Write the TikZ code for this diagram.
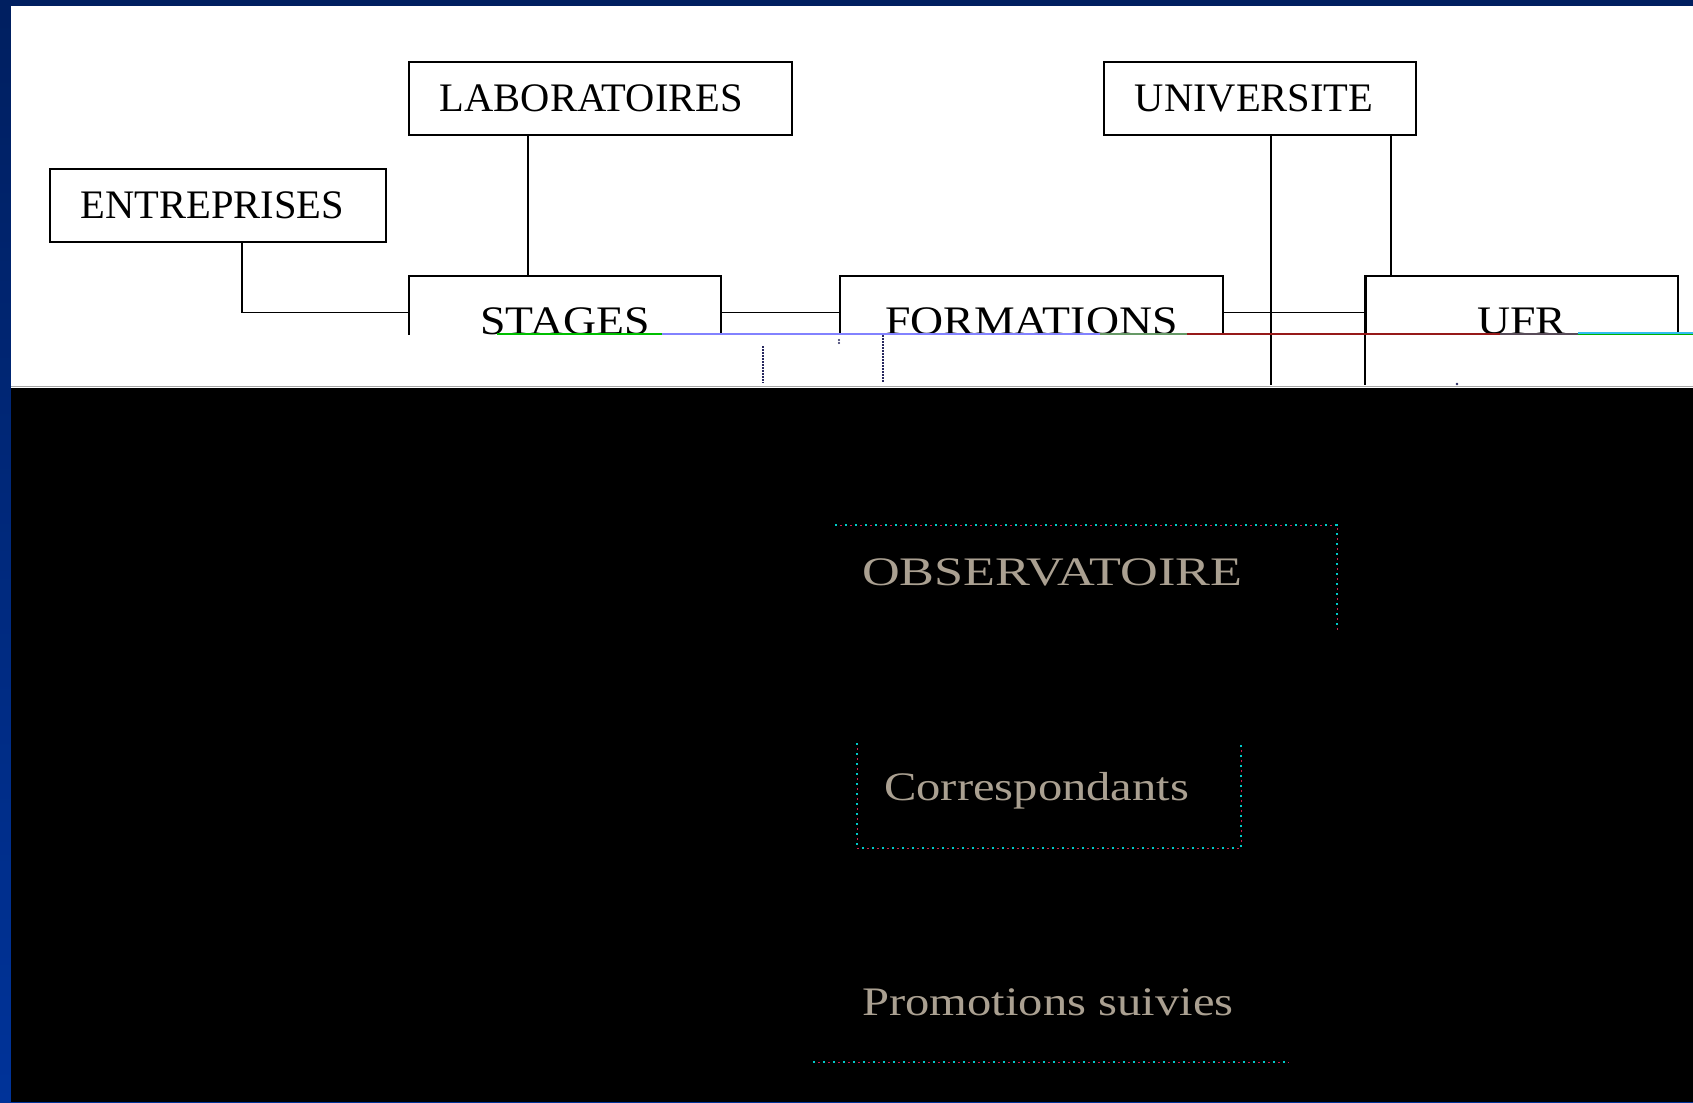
\documentclass[tikz,border=0pt]{standalone}
\usepackage{fontspec}
\setmainfont{Liberation Serif}
\newfontfamily\widefont[FakeStretch=1.2]{Liberation Serif}
\newfontfamily\widerfont[FakeStretch=1.29]{Liberation Serif}
\newfontfamily\lowfont[FakeStretch=1.13]{Liberation Serif}
\definecolor{navy}{RGB}{0,31,96}
\definecolor{slideblue}{RGB}{0,51,153}
\definecolor{ghost}{RGB}{170,160,145}
\definecolor{dotcyan}{RGB}{0,200,200}
\definecolor{dotred}{RGB}{205,30,75}
\definecolor{dotnavy}{RGB}{40,40,95}
\definecolor{lav}{RGB}{130,130,255}
\definecolor{rust}{RGB}{150,25,25}
\tikzset{
  topbox/.style={draw, line width=1.8pt, anchor=north west, inner xsep=31pt, inner ysep=0pt,
    text width=#1, align=left, minimum height=73pt, text height=27pt, text depth=0pt},
  lowbox/.style={draw, line width=1.8pt, anchor=north west, inner sep=0pt,
    minimum width=#1, minimum height=73pt, text height=45pt, text depth=0pt,
    font=\lowfont\fontsize{40.5}{48}\selectfont},
  link/.style={line width=1.4pt},
  dotpair/.style={line width=2.4pt, dotcyan, dash pattern=on 2.2pt off 7.8pt,
    preaction={draw, dotred, dash pattern=on 2.2pt off 7.8pt, dash phase=5pt}},
  ghosttext/.style={anchor=base west, inner sep=0pt, text=ghost,
    font=\widefont\fontsize{40.5}{48}\selectfont}
}
\begin{document}
\begin{tikzpicture}[x=1pt, y=-1pt, line cap=butt, font=\fontsize{40.5}{48}\selectfont]
  \useasboundingbox (0,0) rectangle (1693,1102);
  % frame and the two halves of the slide
  \shade[top color=navy, bottom color=slideblue] (0,0) rectangle (1693,1102);
  \fill[navy] (0,0) rectangle (1693,6);
  \fill[white] (11,6) rectangle (1693,388);
  \fill[black] (11,388) rectangle (1693,1102);
  \draw[black!35, line width=1.2pt] (11,386.6) -- (1693,386.6);
  \coordinate (edge) at (0,385);
  % boxes
  \node[topbox=274pt] (ent) at (49,168) {ENTREPRISES};
  \node[topbox=321pt] (lab) at (408,61) {LABORATOIRES};
  \node[topbox=250pt] (uni) at (1103,61) {UNIVERSITE};
  \begin{scope}
    \clip (0,0) rectangle (1693,334);
    \node[lowbox=312pt] (stg) at (408,275) {STAGES};
    \node[lowbox=383pt] (frm) at (839,275) {FORMATIONS};
    \node[lowbox=312pt] (ufr) at (1365,275) {UFR};
  \end{scope}
  % links
  \draw[link] ([xshift=24pt]ent.south) |- (stg.west);
  \draw[link] ([xshift=-72.5pt]lab.south) -- ([xshift=-72.5pt]lab.south |- stg.north);
  \draw[link] (stg.east) -- (frm.west);
  \draw[link] (frm.east) -- (ufr.west);
  \draw[link] ([xshift=11pt]uni.south) -- ([xshift=11pt]uni.south |- edge);
  \draw[link] ([xshift=131pt]uni.south) -- ([xshift=131pt]uni.south |- ufr.north);
  \draw[link] (ufr.north west) -- (ufr.north west |- edge);
  % broken strip
  \draw[green!75!black, line width=1.5pt] (497,334) -- (662,334);
  \draw[lav, line width=1.5pt] (662,334) -- (1100,334);
  \draw[green!60!magenta, line width=1.5pt] (1100,334) -- (1187,334);
  \draw[rust, line width=1.5pt] (1187,334) -- (1500,334);
  \draw[violet!70!green, line width=1.5pt] (1500,334) -- (1578,334);
  \draw[cyan!80!white, line width=1.2pt] (1578,333) -- (1693,333);
  \draw[green!70!black, line width=1.2pt] (1578,334.5) -- (1693,334.5);
  \draw[dotnavy, line width=2pt, dash pattern=on 1.5pt off 1.5pt] (763,346) -- (763,383);
  \draw[dotnavy, line width=2pt, dash pattern=on 1.5pt off 1.5pt] (883,335) -- (883,383);
  \fill[dotnavy] (839,340) circle (1.1pt) (839,343) circle (1.1pt);
  \fill[dotnavy] (1457,384) circle (1.3pt);
  % lower half
  \draw[dotpair] (835,525) -- (1337,525) -- (1337,630);
  \draw[dotpair] (857,743) -- (857,848) -- (1241,848) -- (1241,743);
  \draw[dotpair] (813,1062) -- (1289,1062);
  \node[ghosttext, font=\widerfont\fontsize{40.5}{48}\selectfont] (obs) at (862,585) {OBSERVATOIRE};
  \node[ghosttext] (cor) at (884,800) {Correspondants};
  \node[ghosttext] (pro) at (862,1015) {Promotions suivies};
\end{tikzpicture}
\end{document}
